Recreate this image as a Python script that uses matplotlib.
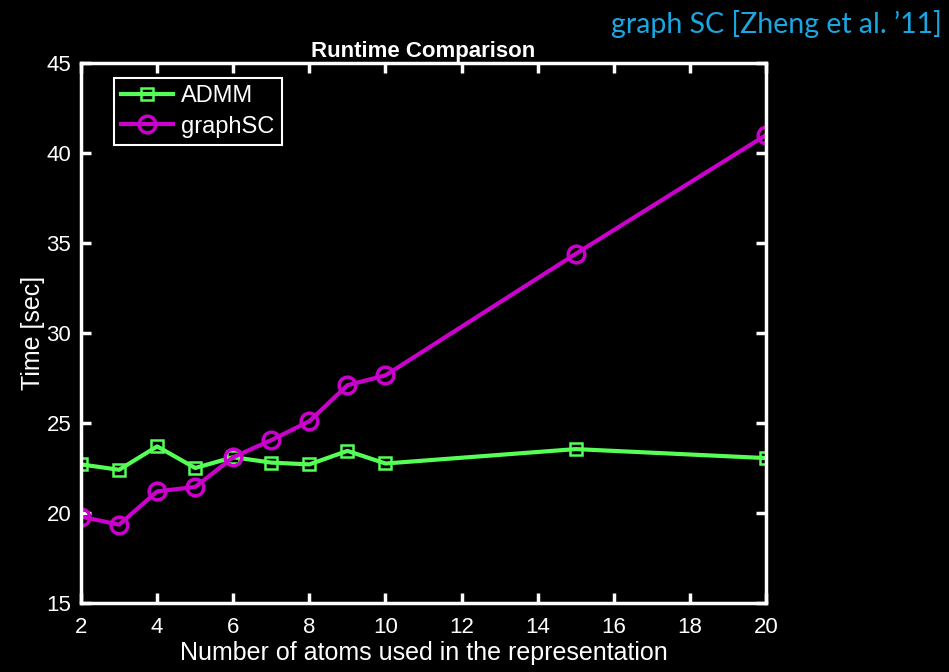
import matplotlib
matplotlib.use("Agg")
import matplotlib.pyplot as plt

atoms = [2, 3, 4, 5, 6, 7, 8, 9, 10, 15, 20]
admm_time = [22.7, 22.4, 23.7, 22.5, 23.1, 22.8, 22.7, 23.45, 22.75, 23.55, 23.05]
graphsc_time = [19.8, 19.35, 21.2, 21.45, 23.1, 24.05, 25.1, 27.1, 27.65, 34.4, 41.0]
x_ticks = [2, 4, 6, 8, 10, 12, 14, 16, 18, 20]
y_ticks = [15, 20, 25, 30, 35, 40, 45]

plt.rcParams['font.family'] = ['Liberation Sans', 'DejaVu Sans']

fig = plt.figure(figsize=(9.49, 6.72), dpi=100, facecolor='black')
ax = fig.add_axes([0.0854, 0.1027, 0.7218, 0.8035])
ax.set_facecolor('black')

ax.plot(atoms, admm_time, color='#55ff55', lw=3, marker='s', ms=9,
        mfc='none', mec='#55ff55', mew=1.8, label='ADMM')
ax.plot(atoms, graphsc_time, color='#cc00cc', lw=3, marker='o', ms=12,
        mfc='none', mec='#cc00cc', mew=2.5, label='graphSC')

ax.set_xlim(2, 20)
ax.set_ylim(15, 45)
ax.set_xticks(x_ticks)
ax.set_yticks(y_ticks)
ax.tick_params(direction='in', colors='white', labelcolor='white', labelsize=16,
               length=7, width=2.5, top=True, right=True)
ax.tick_params(axis='x', pad=10)
ax.tick_params(axis='y', pad=7)
for s in ax.spines.values():
    s.set_color('white')
    s.set_linewidth(2.5)

ax.set_xlabel('Number of atoms used in the representation', color='white', fontsize=18, labelpad=2)
ax.set_ylabel('Time [sec]', color='white', fontsize=18, labelpad=1)
ax.set_title('Runtime Comparison', color='white', fontsize=16, fontweight='bold', pad=4)

leg = ax.legend(loc='upper left', bbox_to_anchor=(0.038, 0.985), fontsize=17,
                facecolor='black', edgecolor='white', framealpha=1, fancybox=False,
                handlelength=2.2, handletextpad=0.35, borderpad=0.3, labelspacing=0.35,
                borderaxespad=0.3)
leg.get_frame().set_linewidth(1.5)
for t in leg.get_texts():
    t.set_color('white')

fig.text(0.992, 0.965, 'graph SC [Zheng et al. \u201911]', color='#1aa6e0',
         fontsize=20.5, ha='right', va='center', family=['Lato', 'DejaVu Sans'])

fig.savefig('out.png', dpi=100, facecolor='black')
